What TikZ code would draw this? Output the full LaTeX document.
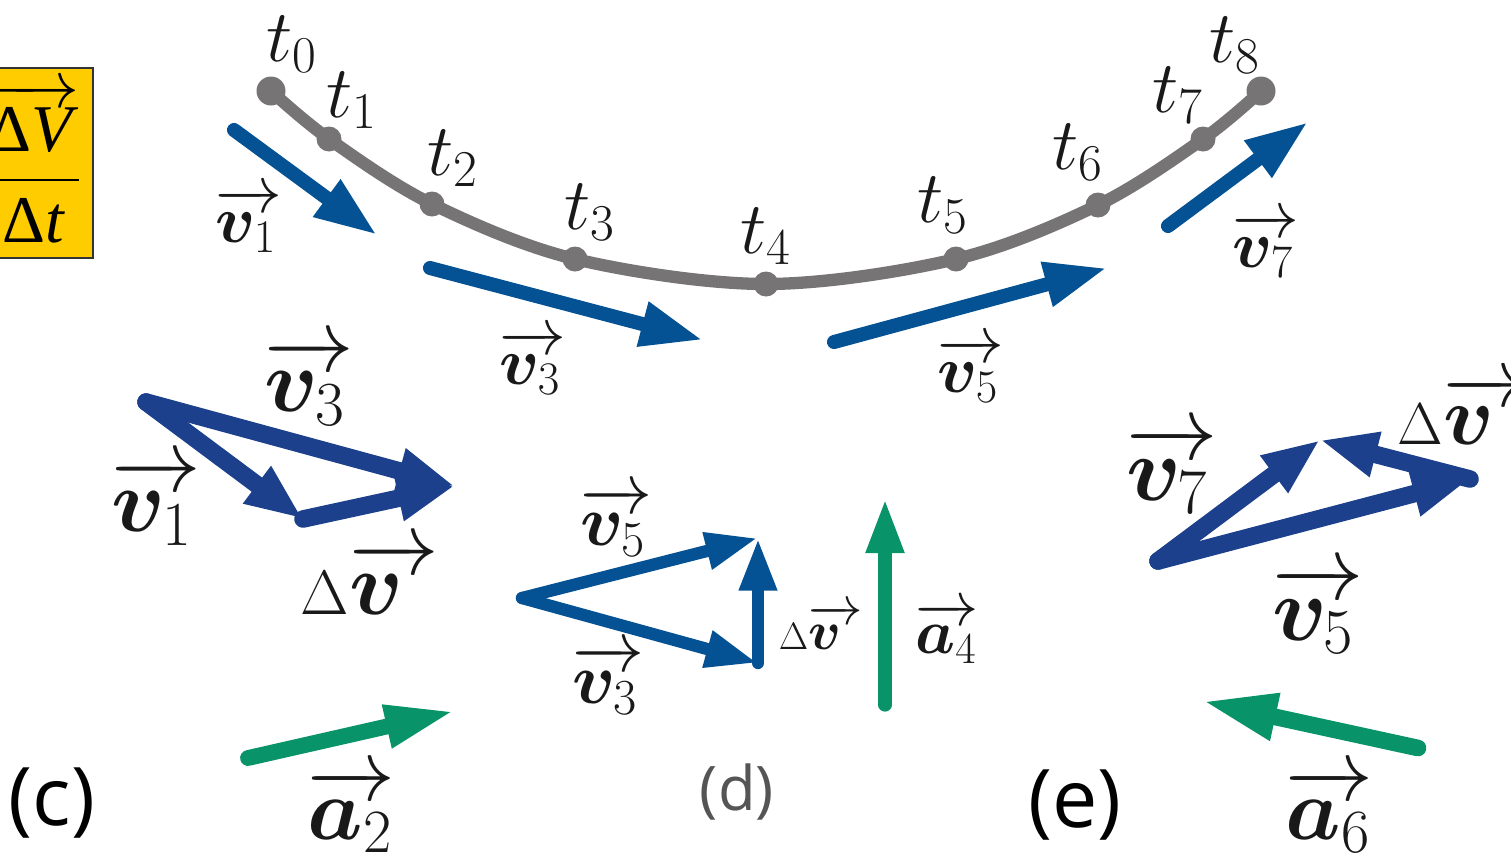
\RequirePackage{fix-cm}
\documentclass[tikz,border=0pt]{standalone}
\usepackage{amsmath}
\usepackage{bm}
\usepackage{fontspec}
\newfontfamily\panelfont{Open Sans}
\newfontfamily\tnr{Liberation Serif}
\usetikzlibrary{arrows.meta}
\definecolor{topblue}{RGB}{4,82,148}
\definecolor{navy}{RGB}{28,64,140}
\definecolor{agreen}{RGB}{8,148,104}
\definecolor{pathgray}{RGB}{118,116,116}
\definecolor{boxyellow}{RGB}{255,204,0}
\definecolor{labgray}{RGB}{85,85,85}
\newcommand\arr[1]{\rlap{$\overrightarrow{\phantom{#1}}$}#1}
\newcommand\myv[1]{\arr{\bm{v}}_{#1}}
\newcommand\mya[1]{\arr{\bm{a}}_{#1}}
\newcommand\mydv{\scalebox{0.7}{$\Delta$}\arr{\bm{v}}}
\tikzset{
  lab/.style={inner sep=0pt, text=black!90, font=\fontsize{#1}{#1}\selectfont},
  panel/.style={inner sep=0pt, font=\panelfont\fontsize{#1}{#1}\selectfont},
  enddot/.style={circle, fill=pathgray, inner sep=0pt, minimum size=0.58cm},
  middot/.style={circle, fill=pathgray, inner sep=0pt, minimum size=0.5cm},
  vtop/.style={topblue, line width=8pt, line cap=round, -{Triangle[length=1.25cm,width=0.85cm]}},
  vc/.style={navy, line width=10pt, line cap=round, -{Triangle[length=1.15cm,width=0.85cm]}},
  vd/.style={topblue, line width=7pt, line cap=round, -{Triangle[length=1.05cm,width=0.7cm]}},
  acc/.style={agreen, line cap=round, line width=#1},
}
\begin{document}
\begin{tikzpicture}[x=0.02cm,y=-0.02cm]
\useasboundingbox (0,0) rectangle (1511,853);
% formula box
\draw[fill=boxyellow, draw=black!80, line width=0.8pt] (-30,68) rectangle (93,258);
\node[inner sep=0pt, font=\tnr\fontsize{38}{40}\selectfont] (frac) at (34,163)
  {$\dfrac{\overrightarrow{\hbox{Δ\textit{V}}}}{\hbox{Δ\textit{t}}}$};
% path points
\coordinate (c0) at (271,91);
\coordinate (c1) at (329,139);
\coordinate (c2) at (432,204);
\coordinate (c3) at (575,259);
\coordinate (c4) at (766,284);
\coordinate (c5) at (956,259);
\coordinate (c6) at (1098,205);
\coordinate (c7) at (1203,139);
\coordinate (c8) at (1261,91);
\draw[pathgray, line width=7pt] plot[smooth, tension=0.55] coordinates {(c0) (c1) (c2) (c3) (c4) (c5) (c6) (c7) (c8)};
\node[enddot] (p0) at (c0) {};
\node[middot] (p1) at (c1) {};
\node[middot] (p2) at (c2) {};
\node[middot] (p3) at (c3) {};
\node[middot] (p4) at (c4) {};
\node[middot] (p5) at (c5) {};
\node[middot] (p6) at (c6) {};
\node[middot] (p7) at (c7) {};
\node[enddot] (p8) at (c8) {};
\node[lab=42] (t0) at (292,44) {$t_0$};
\node[lab=42] (t1) at (352,100) {$t_1$};
\node[lab=42] (t2) at (453,158) {$t_2$};
\node[lab=42] (t3) at (590,212) {$t_3$};
\node[lab=42] (t4) at (766,236) {$t_4$};
\node[lab=42] (t5) at (943,205) {$t_5$};
\node[lab=42] (t6) at (1078,152) {$t_6$};
\node[lab=42] (t7) at (1178,95) {$t_7$};
\node[lab=42] (t8) at (1235,45) {$t_8$};
% top velocity arrows
\coordinate (v1s) at (234,130); \coordinate (v1e) at (377,235);
\coordinate (v3s) at (430,268); \coordinate (v3e) at (703,340);
\coordinate (v5s) at (834,342); \coordinate (v5e) at (1107,268);
\coordinate (v7s) at (1168,226); \coordinate (v7e) at (1308,122);
\draw[vtop] (v1s) -- (v1e);
\draw[vtop] (v3s) -- (v3e);
\draw[vtop] (v5s) -- (v5e);
\draw[vtop] (v7s) -- (v7e);
\node[lab=38] (lv1) at (246,220) {$\myv{1}$};
\node[lab=38] (lv3) at (530,362) {$\myv{3}$};
\node[lab=38] (lv5) at (968,370) {$\myv{5}$};
\node[lab=38] (lv7) at (1263,245) {$\myv{7}$};
% panel (c)
\coordinate (cO) at (146,402);
\coordinate (cA) at (303,519);
\coordinate (cB) at (455,486);
\draw[vc] (cO) -- (cB);
\draw[vc] (cO) -- (cA);
\draw[vc] (cA) -- (cB);
\node[lab=51] (cv3) at (305,382) {$\myv{3}$};
\node[lab=51] (cv1) at (152,502) {$\myv{1}$};
\node[lab=51] (cdv) at (352,578) {$\mydv$};
% panel (d)
\coordinate (dO) at (522,598);
\coordinate (dA) at (758,663);
\coordinate (dB) at (758,538);
\draw[vd] (dO) -- (dB);
\draw[vd] (dO) -- (dA);
\draw[vd] (dA) -- (dB);
\node[lab=41] (dv5) at (613,522) {$\myv{5}$};
\node[lab=41] (dv3) at (605,680) {$\myv{3}$};
\node[lab=31] (ddv) at (810,627) {$\mydv$};
% panel (e)
\coordinate (eO) at (1158,561);
\coordinate (eA) at (1320,440);
\coordinate (eB) at (1470,479);
\draw[vc] (eO) -- (eB);
\draw[vc] (eO) -- (eA);
\draw[vc] (eB) -- (eA);
\node[lab=52] (ev7) at (1167,470) {$\myv{7}$};
\node[lab=52] (ev5) at (1313,610) {$\myv{5}$};
\node[lab=48] (edv) at (1446,410) {$\mydv$};
% accelerations
\coordinate (a2s) at (248,758); \coordinate (a2e) at (455,711);
\coordinate (a4s) at (885,705); \coordinate (a4e) at (885,498);
\coordinate (a6s) at (1418,748); \coordinate (a6e) at (1202,701);
\draw[acc=9pt, -{Triangle[length=1.4cm,width=0.8cm]}] (a2s) -- (a2e);
\draw[acc=7.5pt, -{Triangle[length=1.1cm,width=0.7cm]}] (a4s) -- (a4e);
\draw[acc=9.5pt, -{Triangle[length=1.5cm,width=0.88cm]}] (a6s) -- (a6e);
\node[lab=50] (la2) at (350,810) {$\mya{2}$};
\node[lab=36] (la4) at (946,633) {$\mya{4}$};
\node[lab=50] (la6) at (1328,810) {$\mya{6}$};
% panel labels
\node[panel=46] (pc) at (52,803) {(c)};
\node[panel=35, text=labgray] (pd) at (737,792) {(d)};
\node[panel=46] (pe) at (1075,805) {(e)};
\end{tikzpicture}
\end{document}
